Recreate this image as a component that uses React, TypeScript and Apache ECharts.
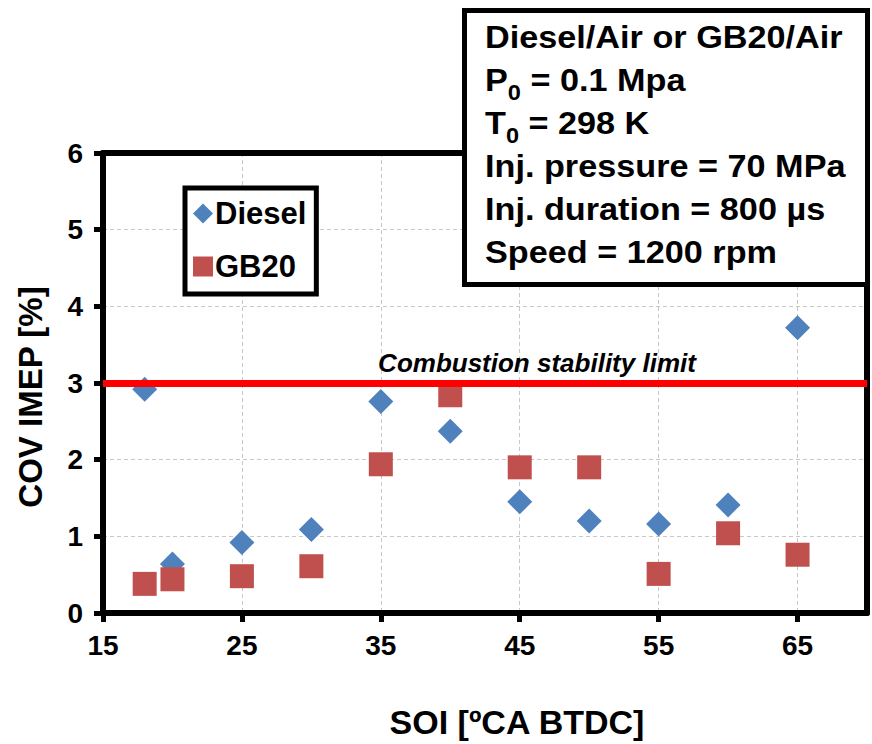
import React, { useEffect, useRef } from "react";
import * as echarts from "echarts";

const soi = [18, 20, 25, 30, 35, 40, 45, 50, 55, 60, 65];
const dieselCov = [2.92, 0.64, 0.92, 1.09, 2.76, 2.37, 1.45, 1.2, 1.16, 1.41, 3.72];
const gb20Cov = [0.38, 0.44, 0.48, 0.61, 1.94, 2.84, 1.9, 1.9, 0.51, 1.04, 0.76];
const xTicks = [15, 25, 35, 45, 55, 65];
const stabilityLimit = 3;
const conditionLines = [
  { main: "Diesel/Air or GB20/Air" },
  { main: "P", sub: "0", rest: " = 0.1 Mpa" },
  { main: "T", sub: "0", rest: " = 298 K" },
  { main: "Inj. pressure = 70 MPa" },
  { main: "Inj. duration = 800 \u00b5s" },
  { main: "Speed = 1200 rpm" },
];

const FONT = "'Liberation Sans', Arial, sans-serif";

export default function App() {
  const ref = useRef<HTMLDivElement>(null);
  useEffect(() => {
    if (!ref.current) return;
    const chart = echarts.init(ref.current, null, { renderer: "svg" });
    const lineY0 = 37;
    const lineStep = 43;
    const textEls = conditionLines.map((l, i) => ({
      type: "text",
      x: 485,
      y: lineY0 + i * lineStep,
      scaleX: 1.07,
      z: 101,
      style: {
        text: l.sub ? `{b|${l.main}}{s|${l.sub}}{b|${l.rest}}` : `{b|${l.main}}`,
        verticalAlign: "middle",
        align: "left",
        fill: "#000",
        rich: {
          b: { fontSize: 32, fontWeight: "bold", fontFamily: FONT, fill: "#000" },
          s: { fontSize: 22, fontWeight: "bold", fontFamily: FONT, fill: "#000", padding: [24, 0, 0, 0] },
        },
      },
    }));
    const frameAxisLine = { show: true, onZero: false, lineStyle: { color: "#000", width: 6 } };
    const gridLine = { show: true, lineStyle: { color: "#c8c8c8", width: 1, type: [4, 3] } };
    chart.setOption({
      animation: false,
      grid: { left: 103, right: 5, top: 153, bottom: 130 },
      xAxis: [
        {
          type: "value",
          min: 15,
          max: 70,
          interval: 10,
          name: "SOI [\u00baCA BTDC]",
          nameLocation: "middle",
          nameGap: 92,
          nameTextStyle: { fontSize: 34, fontWeight: "bold", fontFamily: FONT, color: "#000", padding: [0, 0, 0, 64] },
          axisLine: frameAxisLine,
          axisTick: { show: true, length: 9, lineStyle: { color: "#000", width: 5 }, customValues: xTicks },
          axisLabel: { fontSize: 28, fontWeight: "bold", fontFamily: FONT, color: "#000", margin: 18, customValues: xTicks },
          splitLine: gridLine,
        },
        {
          type: "value",
          position: "top",
          min: 15,
          max: 70,
          interval: 10,
          axisLine: frameAxisLine,
          axisTick: { show: false },
          axisLabel: { show: false },
          splitLine: { show: false },
        },
      ],
      yAxis: [
        {
          type: "value",
          min: 0,
          max: 6,
          interval: 1,
          name: "COV IMEP [%]",
          nameLocation: "middle",
          nameGap: 56,
          nameTextStyle: { fontSize: 33, fontWeight: "bold", fontFamily: FONT, color: "#000", padding: [0, 28, 0, 0] },
          axisLine: frameAxisLine,
          axisTick: { show: true, length: 9, lineStyle: { color: "#000", width: 5 } },
          axisLabel: { fontSize: 28, fontWeight: "bold", fontFamily: FONT, color: "#000", margin: 20 },
          splitLine: gridLine,
        },
        {
          type: "value",
          position: "right",
          min: 0,
          max: 6,
          interval: 1,
          axisLine: frameAxisLine,
          axisTick: { show: false },
          axisLabel: { show: false },
          splitLine: { show: false },
        },
      ],
      legend: {
        orient: "vertical",
        left: 185,
        top: 188,
        padding: [10, 10, 12, 8],
        itemGap: 22,
        itemWidth: 20,
        itemHeight: 20,
        borderColor: "#000",
        borderWidth: 5,
        backgroundColor: "#fff",
        textStyle: { fontSize: 31, fontWeight: "bold", fontFamily: FONT, color: "#000", padding: [0, 0, 0, -3] },
        data: [
          { name: "Diesel", icon: "diamond" },
          { name: "GB20", icon: "rect" },
        ],
      },
      series: [
        {
          name: "Diesel",
          type: "scatter",
          symbol: "diamond",
          symbolSize: 25,
          itemStyle: { color: "#4f81bd", opacity: 1 },
          data: soi.map((x, i) => [x, dieselCov[i]]),
        },
        {
          name: "GB20",
          type: "scatter",
          symbol: "rect",
          symbolSize: 24,
          itemStyle: { color: "#c0504d", opacity: 1 },
          data: soi.map((x, i) => [x, gb20Cov[i]]),
          markLine: {
            silent: true,
            symbol: "none",
            label: { show: false },
            lineStyle: { color: "#ff0000", width: 7, type: "solid", opacity: 1 },
            data: [{ yAxis: stabilityLimit }],
          },
        },
      ],
      graphic: [
        {
          type: "text",
          x: 537,
          y: 363,
          z: 100,
          style: {
            text: "Combustion stability limit",
            align: "center",
            verticalAlign: "middle",
            fontSize: 26,
            fontWeight: "bold",
            fontStyle: "italic",
            fontFamily: FONT,
            fill: "#000",
          },
        },
        {
          type: "rect",
          z: 100,
          shape: { x: 464.5, y: 10.5, width: 403, height: 274 },
          style: { fill: "#fff", stroke: "#000", lineWidth: 5 },
        },
        ...textEls,
      ],
    });
    return () => chart.dispose();
  }, []);
  return (
    <div
      ref={ref}
      style={{ position: "fixed", left: 0, top: 0, width: 872, height: 744, background: "#fff" }}
    />
  );
}
